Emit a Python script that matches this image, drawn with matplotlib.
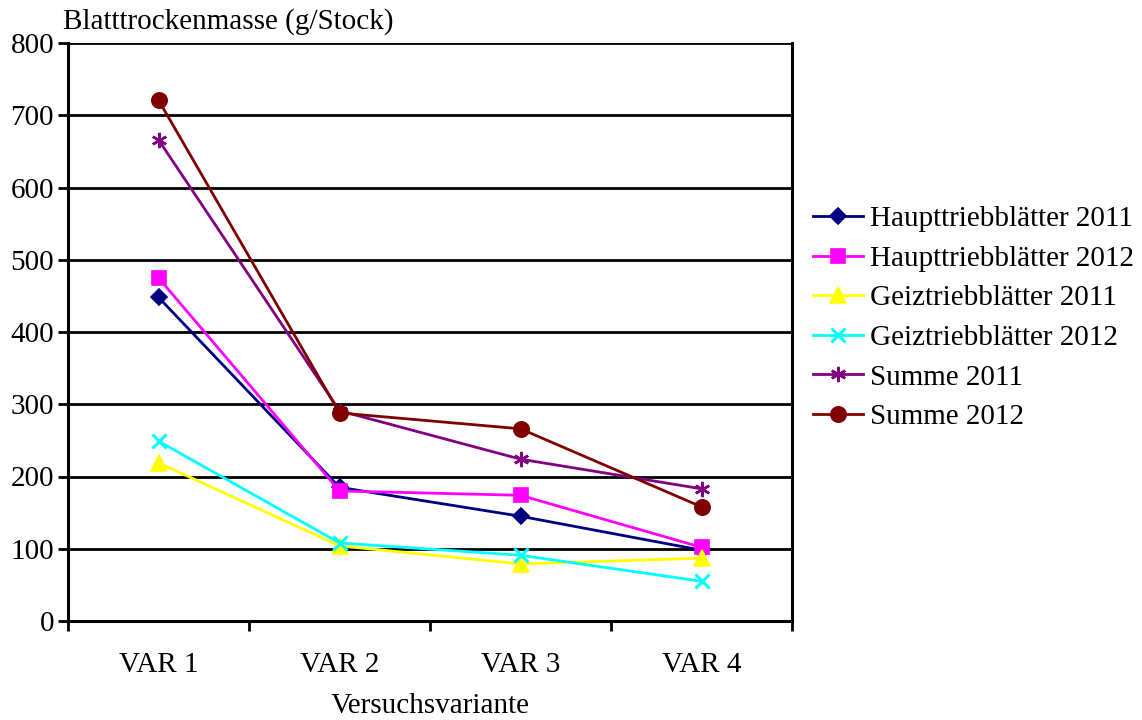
import matplotlib.pyplot as plt

# Blatttrockenmasse je Variante
varianten = ["VAR 1", "VAR 2", "VAR 3", "VAR 4"]
haupt_2011 = [448, 185, 145, 98]
haupt_2012 = [475, 180, 174, 102]
geiz_2011 = [219, 104, 79, 87]
geiz_2012 = [249, 108, 91, 55]
summe_2011 = [666, 291, 224, 183]
summe_2012 = [721, 288, 266, 158]

plt.rcParams['font.family'] = ['Liberation Serif', 'DejaVu Serif']
fs = 21

fig = plt.figure(figsize=(11.42, 7.2), dpi=100)
ax = fig.add_axes([68/1142, 1-621/720, (792-68)/1142, (621-43)/720])

x = list(range(len(varianten)))
serien = [
    (haupt_2011, "Haupttriebblätter 2011", "#000080", "D", 8),
    (haupt_2012, "Haupttriebblätter 2012", "#FF00FF", "s", 10),
    (geiz_2011, "Geiztriebblätter 2011", "#FFFF00", "^", 11),
    (geiz_2012, "Geiztriebblätter 2012", "#00FFFF", "x", 10),
    (summe_2011, "Summe 2011", "#800080", (6, 2, 0), 11),
    (summe_2012, "Summe 2012", "#800000", "o", 11),
]
for werte, name, farbe, m, ms in serien:
    ax.plot(x, werte, color=farbe, lw=2, marker=m, ms=ms,
            mew=2.2 if m == "x" else (1.8 if name == "Summe 2011" else 1.2),
            mec=farbe, mfc=farbe, label=name, zorder=3)

ax.set_xlim(-0.5, 3.5)
ax.set_ylim(0, 800)
ax.set_yticks(range(0, 801, 100))
ax.set_xticks([i - 0.5 for i in range(5)])
ax.set_xticklabels([])
ax.set_xticks(x, minor=True)
ax.set_xticklabels(varianten, minor=True, fontsize=fs)
ax.tick_params(axis='x', which='minor', length=0, pad=22)
ax.tick_params(axis='x', which='major', length=7, width=2, direction='out')
ax.tick_params(axis='y', length=7, width=2, direction='out', labelsize=fs, pad=3)
ax.grid(axis='y', color='black', lw=2)
ax.set_axisbelow(True)
for s in ['left', 'bottom', 'right']:
    ax.spines[s].set_linewidth(2.2)
ax.spines['top'].set_visible(False)

fig.text(63/1142, 1-22/720, "Blatttrockenmasse (g/Stock)", fontsize=fs, va='center', ha='left')
ax.set_xlabel("Versuchsvariante", fontsize=fs, labelpad=11)

ax.legend(loc='center left', bbox_to_anchor=(813/1142, 1-318/720), bbox_transform=fig.transFigure,
          frameon=False, fontsize=fs, borderpad=0, borderaxespad=0,
          handlelength=1.7, handletextpad=0.25, labelspacing=0.45)

fig.savefig("out.png", dpi=100)
